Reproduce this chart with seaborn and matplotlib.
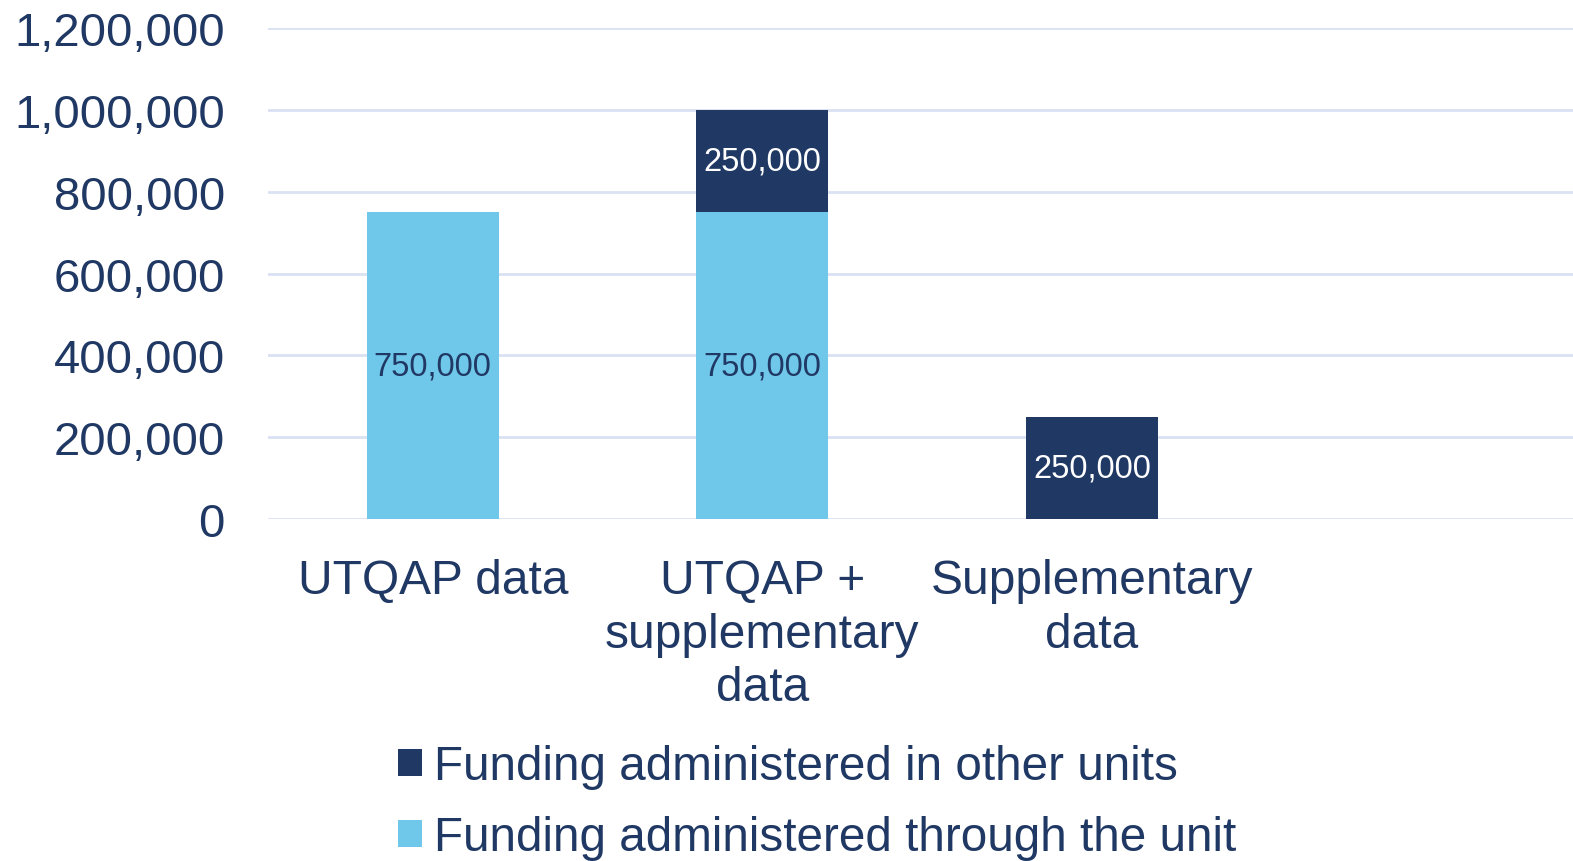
import matplotlib.pyplot as plt
import matplotlib.ticker as mticker
from matplotlib.patches import Patch
import numpy as np
import pandas as pd
import seaborn as sns

categorie = ["UTQAP data", "UTQAP +\nsupplementary\ndata", "Supplementary\ndata"]
through_unit = [750000, 750000, 0]
other_units = [0, 250000, 250000]
serie = ["Funding administered in other units", "Funding administered through the unit"]

navy = "#203864"
azzurro = "#6FC7E9"
griglia = "#D9E1F2"

sns.set_theme(style="white")
plt.rcParams["font.family"] = ["Liberation Sans", "DejaVu Sans"]

df = pd.DataFrame({"cat": categorie, "through": through_unit, "other": other_units})

fig = plt.figure(figsize=(15.73, 8.62), dpi=100)
ax = fig.add_axes([268 / 1573, 1 - 520 / 862, 1 - 268 / 1573, 491 / 862])

sns.barplot(data=df, x="cat", y="through", color=azzurro, width=0.4,
            saturation=1, linewidth=0, ax=ax)
sns.barplot(data=df, x="cat", y="other", color=navy, width=0.4,
            saturation=1, linewidth=0, bottom=np.array(through_unit), ax=ax)

# etichette dentro le barre
for i in range(len(categorie)):
    if through_unit[i] > 0:
        ax.text(i, through_unit[i] / 2, f"{through_unit[i]:,}", ha="center", va="center",
                fontsize=23.5, color=navy)
    if other_units[i] > 0:
        ax.text(i, through_unit[i] + other_units[i] / 2, f"{other_units[i]:,}",
                ha="center", va="center", fontsize=23.5, color="white")

ax.set_ylim(0, 1200000)
ax.set_xlim(-0.5, 3.46)
ax.set_yticks(np.arange(0, 1200001, 200000))
ax.yaxis.set_major_formatter(mticker.StrMethodFormatter("{x:,.0f}"))
ax.yaxis.grid(True, color=griglia, linewidth=2)
ax.set_axisbelow(True)
for s in ax.spines.values():
    s.set_visible(False)
ax.tick_params(axis="y", length=0, pad=31, labelsize=34, labelcolor=navy)
ax.tick_params(axis="x", length=0, pad=28, labelsize=34.5, labelcolor=navy)
ax.set_xlabel("")
ax.set_ylabel("")
for t in ax.get_xticklabels():
    t.set_linespacing(1.25)

handles = [Patch(facecolor=navy, edgecolor="none"), Patch(facecolor=azzurro, edgecolor="none")]
fig.legend(handles, serie, loc="upper left", bbox_to_anchor=(398 / 1573, 1 - 745 / 862),
           frameon=False, fontsize=34.3, labelcolor=navy, handlelength=0.5, handleheight=0.5,
           handletextpad=0.26, labelspacing=0.55, borderpad=0, borderaxespad=0)

fig.savefig("out.png", dpi=100)
